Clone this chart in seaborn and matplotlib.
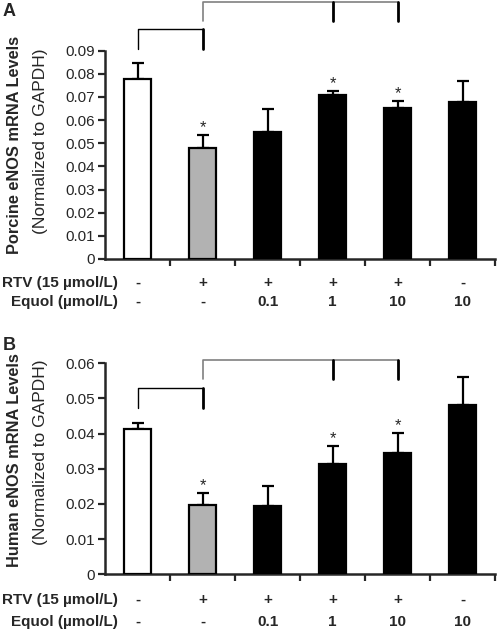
import numpy as np
import pandas as pd
import seaborn as sns
import matplotlib.pyplot as plt

# Values
groups = ["ctrl", "rtv", "rtv_eq01", "rtv_eq1", "rtv_eq10", "eq10"]
rtv_labels = ["-", "+", "+", "+", "+", "-"]
equol_labels = ["-", "-", "0.1", "1", "10", "10"]
bar_colors = ["white", "#b2b2b2", "black", "black", "black", "black"]

porcine_mean = [0.0778, 0.0478, 0.0550, 0.0710, 0.0653, 0.0678]
porcine_err = [0.0068, 0.0058, 0.0098, 0.0016, 0.0030, 0.0091]
porcine_star = [False, True, False, True, True, False]

human_mean = [0.0412, 0.0197, 0.0194, 0.0313, 0.0346, 0.0482]
human_err = [0.0019, 0.0034, 0.0058, 0.0052, 0.0056, 0.0079]
human_star = [False, True, False, True, True, False]

sns.set_style("ticks")
plt.rcParams["font.family"] = ["Liberation Sans", "DejaVu Sans"]

fig = plt.figure(figsize=(4.98, 6.29), dpi=100)
W, H = 498.0, 629.0


def px_axes(left, top, right, bottom):
    return fig.add_axes([left / W, 1 - bottom / H, (right - left) / W, (bottom - top) / H])


def draw_panel(ax, means, errs, stars, ymax, rows_y, brackets):
    df = pd.DataFrame({"group": groups, "value": means})
    sns.barplot(data=df, x="group", y="value", hue="group", palette=bar_colors,
                legend=False, errorbar=None, width=0.43, edgecolor="black",
                linewidth=1.6, ax=ax, zorder=3)
    x = np.arange(len(groups))
    ax.errorbar(x, means, yerr=[np.zeros(len(errs)), errs], fmt="none",
                ecolor="black", elinewidth=1.6, capsize=4, capthick=1.6, zorder=2)
    for xi, m, e, s in zip(x, means, errs, stars):
        if s:
            ax.annotate("*", (xi, m + e), xytext=(0, 0), textcoords="offset points",
                        ha="center", va="bottom", fontsize=12)
    ax.set_xlim(-0.5, len(groups) - 0.5)
    ax.set_ylim(0, ymax)
    ax.set_yticks(np.round(np.arange(0, ymax + 1e-9, 0.01), 2))
    ax.set_yticklabels([f"{v:g}" for v in ax.get_yticks()], fontsize=11)
    ax.set_xticks(np.arange(0.5, len(groups), 1.0))
    ax.set_xticklabels([])
    ax.tick_params(axis="both", direction="out", length=5, width=1.6)
    ax.tick_params(axis="y", pad=2)
    ax.set_xlabel("")
    ax.set_ylabel("")
    sns.despine(ax=ax)
    for sp in ("left", "bottom"):
        ax.spines[sp].set_linewidth(1.8)

    # treatment rows under the axis
    tr = ax.get_xaxis_transform()
    ax.text(-0.3, rows_y[0], "RTV (15 \u00b5mol/L)", transform=tr, ha="right",
            va="center", fontsize=11, fontweight="bold")
    ax.text(-0.3, rows_y[1], "Equol (\u00b5mol/L)", transform=tr, ha="right",
            va="center", fontsize=11, fontweight="bold")
    for xi, r, e in zip(x, rtv_labels, equol_labels):
        ax.text(xi, rows_y[0], r, transform=tr, ha="center", va="center",
                fontsize=11, fontweight="bold")
        ax.text(xi, rows_y[1], e, transform=tr, ha="center", va="center",
                fontsize=11, fontweight="bold")

    # comparison brackets
    (b1_top, b1_leg), (b2_top, b2_leg) = brackets
    ax.plot([0, 0, 1], [b1_leg, b1_top, b1_top], color="black", lw=1, clip_on=False)
    ax.plot([1, 1], [b1_top, b1_leg], color="black", lw=2, clip_on=False)
    ax.plot([1, 1, 4], [b2_leg, b2_top, b2_top], color="#808080", lw=1.2, clip_on=False)
    for xi in (3, 4):
        ax.plot([xi, xi], [b2_top, b2_leg], color="black", lw=2, clip_on=False)


axA = px_axes(105, 50.7, 495, 259)
draw_panel(axA, porcine_mean, porcine_err, porcine_star, 0.09,
           (-0.115, -0.206), ((0.0993, 0.0906), (0.1110, 0.1028)))

axB = px_axes(105, 363.3, 495, 574.3)
draw_panel(axB, human_mean, human_err, human_star, 0.06,
           (-0.122, -0.226), ((0.0530, 0.0473), (0.0610, 0.0556)))

# y-axis labels and panel letters
fig.text(15 / W, 1 - 145 / H, "Porcine eNOS mRNA Levels", rotation=90,
         ha="center", va="center", fontsize=11.8, fontweight="bold")
fig.text(41 / W, 1 - 141 / H, "(Normalized to GAPDH)", rotation=90,
         ha="center", va="center", fontsize=12.5)
fig.text(15 / W, 1 - 460 / H, "Human eNOS mRNA Levels", rotation=90,
         ha="center", va="center", fontsize=11.8, fontweight="bold")
fig.text(41 / W, 1 - 452 / H, "(Normalized to GAPDH)", rotation=90,
         ha="center", va="center", fontsize=12.5)
fig.text(9 / W, 1 - 12 / H, "A", ha="center", va="center", fontsize=13, fontweight="bold")
fig.text(9 / W, 1 - 345 / H, "B", ha="center", va="center", fontsize=13, fontweight="bold")

fig.savefig("out.png", dpi=100)
